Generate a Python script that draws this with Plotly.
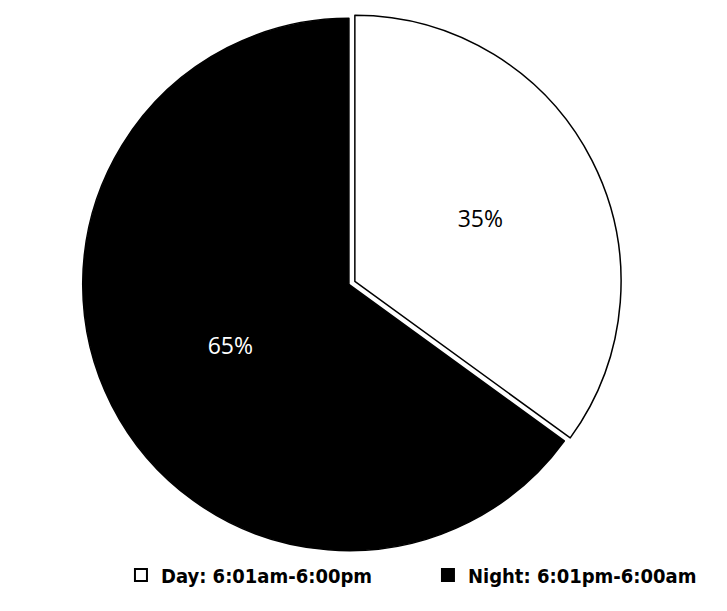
import plotly.graph_objects as go

labels = ["Day: 6:01am-6:00pm", "Night: 6:01pm-6:00am"]
values = [35, 65]
colors = ["#ffffff", "#000000"]
text_colors = ["#000000", "#ffffff"]

fig = go.Figure(go.Pie(
    labels=labels,
    values=values,
    sort=False,
    direction="clockwise",
    rotation=0,
    pull=[0.025, 0],
    marker=dict(colors=colors, line=dict(color="#000000", width=1.5)),
    textinfo="percent",
    texttemplate="%{percent:.0%}",
    textposition="inside",
    insidetextorientation="horizontal",
    textfont=dict(family="Open Sans", size=23, color=text_colors),
    domain=dict(x=[0.0964, 0.8694], y=[0.095, 1.0]),
    hoverinfo="skip",
))

fig.update_layout(
    width=727, height=611,
    margin=dict(l=0, r=0, t=0, b=0),
    paper_bgcolor="white",
    plot_bgcolor="white",
    showlegend=True,
    legend=dict(
        orientation="h",
        x=0.16, xanchor="left",
        y=0.04, yanchor="bottom",
        entrywidth=262,
        bgcolor="rgba(0,0,0,0)",
        font=dict(family="Liberation Sans Narrow, DejaVu Sans Condensed, Open Sans", size=20, color="#000000", weight="bold"),
        itemsizing="constant",
    ),
)

fig.write_html("out.html")
